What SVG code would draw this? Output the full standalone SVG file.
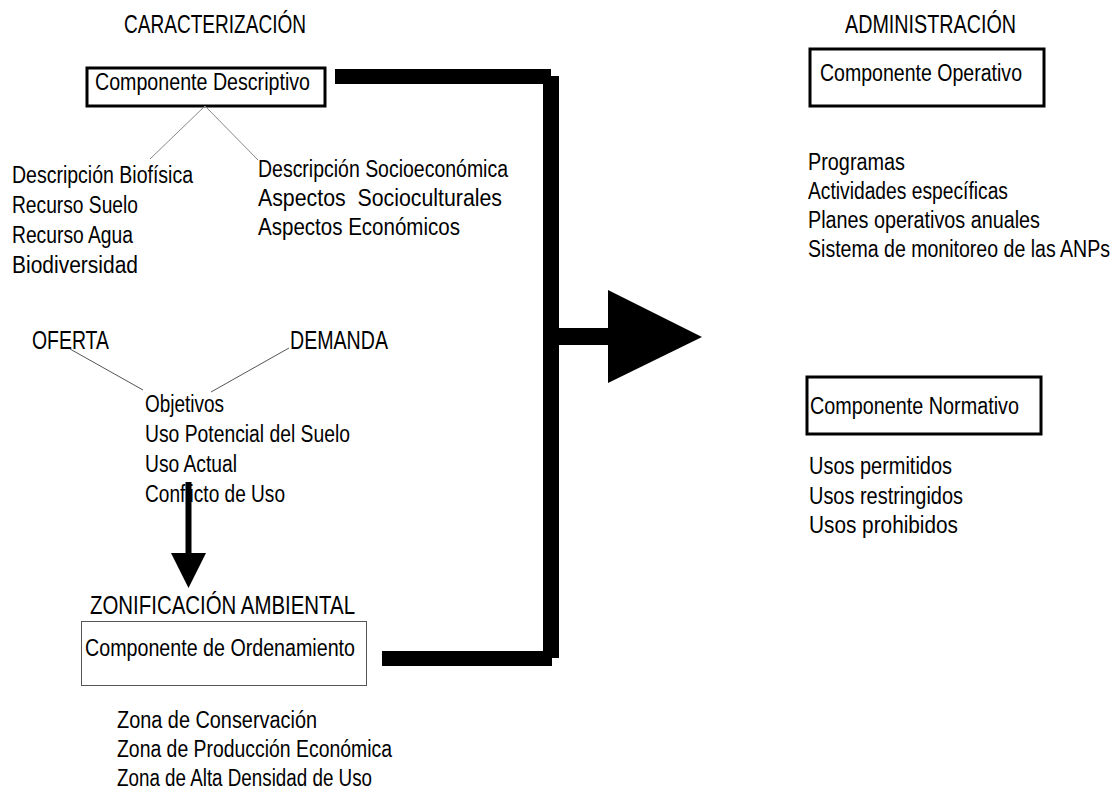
<svg xmlns="http://www.w3.org/2000/svg" width="1120" height="793" viewBox="0 0 1120 793">
<style>
text{font-family:"Liberation Sans",Arial,sans-serif;fill:#000;font-size:23.5px}
.t{font-size:26px}
.box{fill:#fff;stroke:#000;stroke-width:3}
.thin{fill:#fff;stroke:#555;stroke-width:1}
.gl{stroke:#888;stroke-width:1;fill:none}
.dl{stroke:#555;stroke-width:1;fill:none}
.bar{fill:#000}
</style>
<rect width="1120" height="793" fill="#fff"/>
<g id="caracterizacion">
<text class="t" x="124" y="33" textLength="182" lengthAdjust="spacingAndGlyphs">CARACTERIZACIÓN</text>
<rect class="box" x="87" y="68" width="238" height="38"/>
<text x="95" y="90" textLength="215" lengthAdjust="spacingAndGlyphs">Componente Descriptivo</text>
</g>
<g id="biofisica">
<text x="12" y="183" textLength="181" lengthAdjust="spacingAndGlyphs">Descripción Biofísica</text>
<text x="12" y="213" textLength="126" lengthAdjust="spacingAndGlyphs">Recurso Suelo</text>
<text x="12" y="243" textLength="121" lengthAdjust="spacingAndGlyphs">Recurso Agua</text>
<text x="12" y="273" textLength="126" lengthAdjust="spacingAndGlyphs">Biodiversidad</text>
</g>
<g id="socioeconomica">
<text x="258" y="177" textLength="250" lengthAdjust="spacingAndGlyphs">Descripción Socioeconómica</text>
<text x="258" y="206" textLength="244" lengthAdjust="spacingAndGlyphs" xml:space="preserve" style="white-space:pre">Aspectos  Socioculturales</text>
<text x="258" y="235" textLength="202" lengthAdjust="spacingAndGlyphs">Aspectos Económicos</text>
</g>
<g id="oferta">
<text class="t" x="32" y="349" textLength="77" lengthAdjust="spacingAndGlyphs">OFERTA</text>
</g>
<g id="demanda">
<text class="t" x="290" y="349" textLength="98" lengthAdjust="spacingAndGlyphs">DEMANDA</text>
</g>
<g id="objetivos">
<text x="145" y="412" textLength="79" lengthAdjust="spacingAndGlyphs">Objetivos</text>
<text x="145" y="442" textLength="205" lengthAdjust="spacingAndGlyphs">Uso Potencial del Suelo</text>
<text x="145" y="472" textLength="92" lengthAdjust="spacingAndGlyphs">Uso Actual</text>
<text x="145" y="502" textLength="140" lengthAdjust="spacingAndGlyphs">Conflicto de Uso</text>
</g>
<g id="zonificacion">
<text class="t" x="90" y="614" textLength="265" lengthAdjust="spacingAndGlyphs">ZONIFICACIÓN AMBIENTAL</text>
<rect class="thin" x="81.5" y="621.5" width="285" height="64"/>
<text x="85" y="656" textLength="270" lengthAdjust="spacingAndGlyphs">Componente de Ordenamiento</text>
</g>
<g id="zonas">
<text x="117" y="728" textLength="200" lengthAdjust="spacingAndGlyphs">Zona de Conservación</text>
<text x="117" y="757" textLength="275" lengthAdjust="spacingAndGlyphs">Zona de Producción Económica</text>
<text x="117" y="786" textLength="255" lengthAdjust="spacingAndGlyphs">Zona de Alta Densidad de Uso</text>
</g>
<g id="administracion">
<text class="t" x="845" y="33" textLength="171" lengthAdjust="spacingAndGlyphs">ADMINISTRACIÓN</text>
<rect class="box" x="810" y="49" width="234" height="57"/>
<text x="820" y="81" textLength="202" lengthAdjust="spacingAndGlyphs">Componente Operativo</text>
</g>
<g id="operativo-lista">
<text x="808" y="170" textLength="97" lengthAdjust="spacingAndGlyphs">Programas</text>
<text x="808" y="199" textLength="200" lengthAdjust="spacingAndGlyphs">Actividades específicas</text>
<text x="808" y="228" textLength="232" lengthAdjust="spacingAndGlyphs">Planes operativos anuales</text>
<text x="808" y="257" textLength="302" lengthAdjust="spacingAndGlyphs">Sistema de monitoreo de las ANPs</text>
</g>
<g id="normativo">
<rect class="box" x="807" y="377" width="234" height="57"/>
<text x="810" y="414" textLength="209" lengthAdjust="spacingAndGlyphs">Componente Normativo</text>
</g>
<g id="normativo-lista">
<text x="809" y="474" textLength="143" lengthAdjust="spacingAndGlyphs">Usos permitidos</text>
<text x="809" y="504" textLength="154" lengthAdjust="spacingAndGlyphs">Usos restringidos</text>
<text x="809" y="533" textLength="149" lengthAdjust="spacingAndGlyphs">Usos prohibidos</text>
</g>
<g id="connectors">
<line class="gl" x1="205" y1="106" x2="150" y2="159"/>
<line class="gl" x1="205" y1="106" x2="258" y2="160"/>
<line class="dl" x1="70" y1="349" x2="143" y2="390"/>
<line class="dl" x1="289" y1="348" x2="211" y2="392"/>
<rect class="bar" x="335" y="69" width="216" height="15"/>
<rect class="bar" x="543" y="76" width="16" height="582"/>
<rect class="bar" x="382" y="651" width="170" height="15"/>
<rect class="bar" x="557" y="328" width="52" height="17"/>
<polygon class="bar" points="608,290 702,337 608,383"/>
<rect class="bar" x="185.5" y="482" width="6" height="74"/>
<polygon class="bar" points="171,553 206,553 188.5,588"/>
</g>
</svg>
